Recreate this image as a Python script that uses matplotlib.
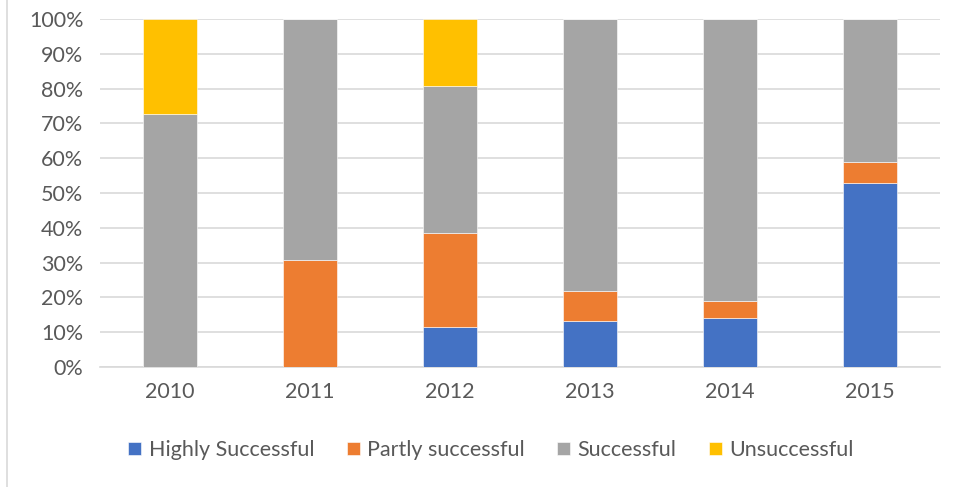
import numpy as np
import matplotlib
matplotlib.use("Agg")
import matplotlib.pyplot as plt
from matplotlib.lines import Line2D

# Share of projects per outcome (percent)
years = ["2010", "2011", "2012", "2013", "2014", "2015"]
highly = [0.0, 0.0, 11.5, 13.1, 14.2, 52.9]
partly = [0.0, 30.8, 26.9, 8.6, 4.8, 6.0]
successful = [72.8, 69.2, 42.4, 78.3, 81.0, 41.1]
unsuccessful = [27.2, 0.0, 19.2, 0.0, 0.0, 0.0]

series = [
    ("Highly Successful", highly, "#4472c4"),
    ("Partly successful", partly, "#ed7d31"),
    ("Successful", successful, "#a5a5a5"),
    ("Unsuccessful", unsuccessful, "#ffc000"),
]

plt.rcParams["font.family"] = ["Lato", "DejaVu Sans"]

fig = plt.figure(figsize=(9.59, 4.87), dpi=100)
ax = fig.add_axes([100 / 959, 1 - 367 / 487, 840 / 959, 348 / 487])

x = np.arange(len(years))
bottom = np.zeros(len(years))
for name, vals, color in series:
    vals = np.array(vals)
    ax.bar(x, vals, bottom=bottom, width=0.39, color=color, label=name,
           edgecolor="white", linewidth=0.4, zorder=3)
    bottom += vals

ax.set_xlim(-0.5, len(years) - 0.5)
ax.set_ylim(0, 100)
ax.set_yticks(np.arange(0, 101, 10))
ax.set_yticklabels([f"{v}%" for v in range(0, 101, 10)])
ax.set_xticks(x)
ax.set_xticklabels(years)
ax.grid(axis="y", color="#d9d9d9", linewidth=1.2, zorder=0)
ax.set_axisbelow(True)
for s in ["top", "right", "left"]:
    ax.spines[s].set_visible(False)
ax.spines["bottom"].set_color("#d9d9d9")
ax.spines["bottom"].set_linewidth(1.2)
ax.tick_params(axis="both", length=0, colors="#595959", labelsize=15.5)
ax.tick_params(axis="x", pad=11)
ax.tick_params(axis="y", pad=12)

fig.legend(loc="center", bbox_to_anchor=(491 / 959, 1 - 450 / 487), ncol=4,
           frameon=False, fontsize=15.5, handlelength=0.6, handleheight=0.6,
           handletextpad=0.35, columnspacing=1.5, labelcolor="#595959")

# left border of the chart frame
fig.add_artist(Line2D([7 / 959, 7 / 959], [0, 1], color="#d9d9d9", linewidth=1.2,
                      transform=fig.transFigure))

fig.savefig("out.png", dpi=100)
